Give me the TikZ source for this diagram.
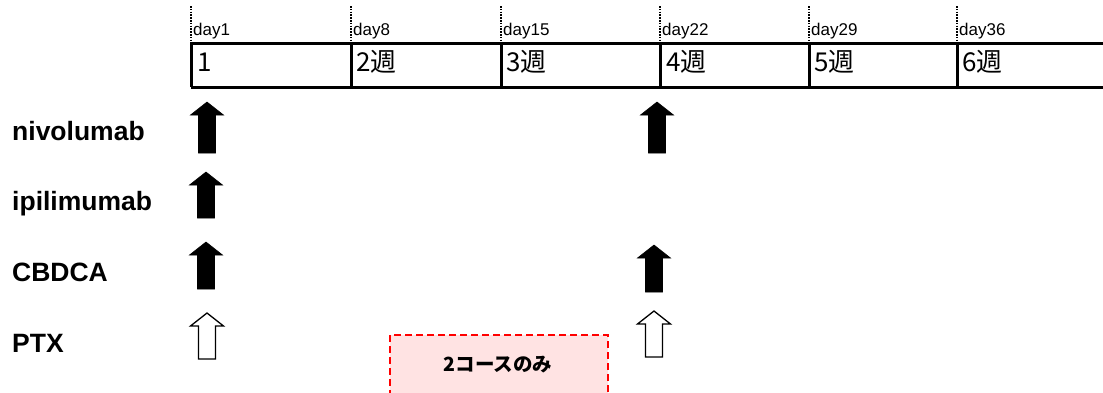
\documentclass[tikz,border=0pt]{standalone}
\usepackage{fontspec}
\setmainfont{Liberation Sans}
\newfontfamily\jp{Noto Sans CJK JP}
\begin{document}
\begin{tikzpicture}[x=1pt,y=-1pt,
  grid/.style={line width=3pt},
  tick/.style={line width=2.6pt, dash pattern=on 1.6pt off 1.2pt},
  daylbl/.style={anchor=base west, inner sep=0pt, font=\fontsize{17}{17}\selectfont},
  weeklbl/.style={anchor=base west, inner sep=0pt, font=\jp\fontsize{26}{26}\selectfont},
  druglbl/.style={anchor=base west, inner sep=0pt, font=\bfseries\fontsize{26.5}{26.5}\selectfont},
  solidarrow/.style={fill=black, draw=black, line width=0.6pt},
  hollowarrow/.style={fill=white, draw=black, line width=1.3pt},
  note/.style={draw=red, line width=2pt, dash pattern=on 7pt off 4pt, fill=red!11},
  uparrow/.pic={
    \path[pic actions] (-8.5,0) -- (-8.5,-#1+13) -- (-16.5,-#1+13) -- (0,-#1)
      -- (16.5,-#1+13) -- (8.5,-#1+13) -- (8.5,0) -- cycle;
  }]
\useasboundingbox (0,0) rectangle (1103,392);

% week grid
\draw[grid] (191,43) -- (1103,43);
\draw[grid] (191,87) -- (1103,87);
\foreach \x in {191,351,501,660,809,957}{
  \draw[grid] (\x,43) -- (\x,87);
  \draw[tick] (\x,6) -- (\x,43);
}

% day markers
\node[daylbl] (d1)  at (193,35) {day1};
\node[daylbl] (d8)  at (353,35) {day8};
\node[daylbl] (d15) at (503,35) {day15};
\node[daylbl] (d22) at (662,35) {day22};
\node[daylbl] (d29) at (811,35) {day29};
\node[daylbl] (d36) at (959,35) {day36};

% week numbers
\node[weeklbl] (w1) at (197,71) {1};
\node[weeklbl] (w2) at (356,71) {2週};
\node[weeklbl] (w3) at (506,71) {3週};
\node[weeklbl] (w4) at (666,71) {4週};
\node[weeklbl] (w5) at (814,71) {5週};
\node[weeklbl] (w6) at (962,71) {6週};

% drug names
\node[druglbl] (nivo) at (12,140) {nivolumab};
\node[druglbl] (ipi)  at (12,210) {ipilimumab};
\node[druglbl] (cbdca) at (12,281) {CBDCA};
\node[druglbl] (ptx)  at (12,352) {PTX};

% administration days
\pic[solidarrow]  at (207,153) {uparrow=51};
\pic[solidarrow]  at (206,218) {uparrow=46};
\pic[solidarrow]  at (206,289) {uparrow=47};
\pic[hollowarrow] at (207,359) {uparrow=46};

\pic[solidarrow]  at (657,153) {uparrow=51};
\pic[solidarrow]  at (654,292) {uparrow=47};
\pic[hollowarrow] at (654,357) {uparrow=46};

% note box
\draw[note] (390,397) -- (390,335) -- (608,335) -- (608,397);
\node[inner sep=0pt, font=\jp\bfseries\fontsize{19.5}{19.5}\selectfont] (course) at (498,365) {2コースのみ};
\end{tikzpicture}
\end{document}
